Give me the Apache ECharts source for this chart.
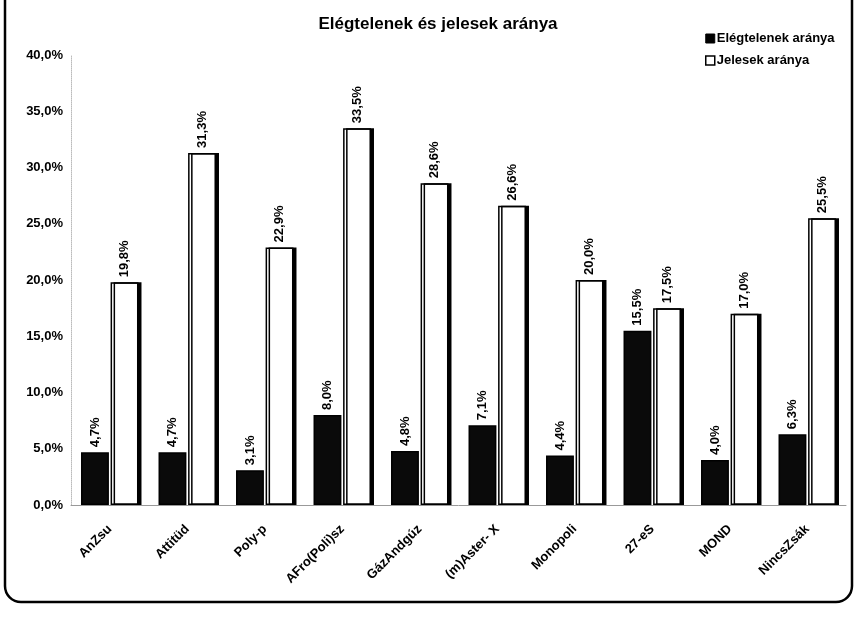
<!DOCTYPE html>
<html><head><meta charset="utf-8">
<script src="https://cdn.jsdelivr.net/npm/echarts@6/dist/echarts.min.js"></script>
<style>html,body{margin:0;padding:0;background:#fff}#c{width:858px;height:617px}</style>
</head><body><div id="c"></div>
<script>
const categories = ['AnZsu','Attitüd','Poly-p','AFro(Poli)sz','GázAndgúz','(m)Aster- X','Monopoli','27-eS','MOND','NincsZsák'];
const elegtelen = [4.7, 4.7, 3.1, 8.0, 4.8, 7.1, 4.4, 15.5, 4.0, 6.3];
const jeles = [19.8, 31.3, 22.9, 33.5, 28.6, 26.6, 20.0, 17.5, 17.0, 25.5];
const yTicks = [0,5,10,15,20,25,30,35,40];

const fmt = v => v.toFixed(1).replace('.', ',') + '%';
const font = 'Liberation Sans';
const chart = echarts.init(document.getElementById('c'));
chart.setOption({
  animation: false,
  textStyle: {fontFamily: font},
  title: {text: 'Elégtelenek és jelesek aránya', left: 433, textAlign: 'center', top: 11,
    textStyle: {fontFamily: font, fontSize: 17, fontWeight: 'bold', color: '#000'}},
  legend: {orient: 'vertical', left: 700, top: 27, itemWidth: 9, itemHeight: 9, itemGap: 9,
    textStyle: {fontFamily: font, fontSize: 13, fontWeight: 'bold', color: '#000', padding: [0,0,0,-3]},
    data: [
      {name: 'Elégtelenek aránya', icon: 'rect', itemStyle: {color: '#000', borderColor: '#000', borderWidth: 1, shadowOffsetX: 0}},
      {name: 'Jelesek aránya', icon: 'rect', itemStyle: {color: '#fff', borderColor: '#000', borderWidth: 1.5, shadowOffsetX: 0}}
    ]},
  grid: {left: 71, right: 12, top: 55, bottom: 112},
  xAxis: {type: 'category', data: categories,
    axisLine: {lineStyle: {color: '#999', width: 1}}, axisTick: {show: false},
    axisLabel: {rotate: 45, interval: 0, fontSize: 13, fontWeight: 'bold', color: '#000', margin: 22}},
  yAxis: {type: 'value', min: 0, max: 40, interval: 5,
    axisLine: {show: true, lineStyle: {color: '#bbb', type: 'dotted'}}, axisTick: {show: false},
    splitLine: {show: false},
    axisLabel: {fontSize: 13, fontWeight: 'bold', color: '#000', margin: 8,
      formatter: v => yTicks.includes(v) ? fmt(v) : ''}},
  series: [
    {name: 'Elégtelenek aránya', type: 'bar', data: elegtelen, barWidth: '36%', barGap: '6%',
     itemStyle: {color: '#0a0a0a', borderColor: '#000', borderWidth: 1.5},
     label: {show: true, position: 'top', rotate: 90, align: 'left', verticalAlign: 'middle', distance: 5,
       fontSize: 13, fontWeight: 'bold', color: '#000', formatter: p => fmt(p.value)}},
    {name: 'Jelesek aránya', type: 'bar', data: jeles, barWidth: '36%',
     itemStyle: {color: '#fff', borderColor: '#000', borderWidth: 1.5,
       shadowColor: '#000', shadowOffsetX: 3, shadowOffsetY: 0, shadowBlur: 0},
     label: {show: true, position: 'top', rotate: 90, align: 'left', verticalAlign: 'middle', distance: 5,
       fontSize: 13, fontWeight: 'bold', color: '#000', formatter: p => fmt(p.value)}}
  ],
  graphic: [{type: 'rect', shape: {x: 5, y: -30, width: 847, height: 632, r: 16}, silent: true,
    style: {fill: 'none', stroke: '#000', lineWidth: 2.5}}]
});
</script></body></html>
